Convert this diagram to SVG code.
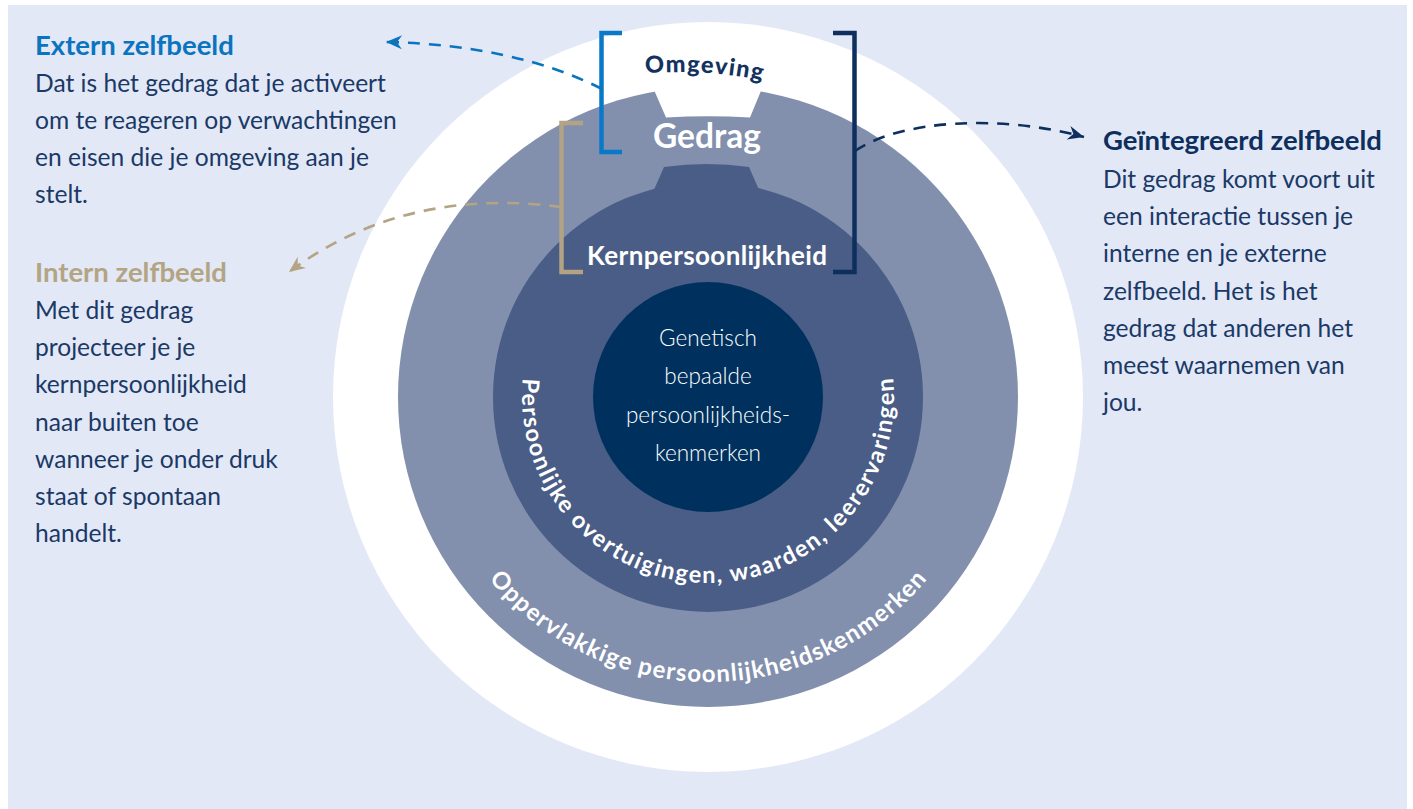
<svg xmlns="http://www.w3.org/2000/svg" width="1413" height="809" viewBox="0 0 1413 809">
<defs>
<style>
.body{font-family:Lato,"Open Sans","Liberation Sans",sans-serif;font-weight:400;font-size:24.6px;fill:#1b3966}
.head{font-family:Lato,"Liberation Sans",sans-serif;font-weight:700;font-size:27.5px}
.lbl{font-family:Lato,"Liberation Sans",sans-serif;font-weight:700;fill:#ffffff}
.core{font-family:Lato,"Open Sans","Liberation Sans",sans-serif;font-weight:300;font-size:22.5px;fill:#ffffff;text-anchor:middle}
.conn{fill:none;stroke-width:2.6;stroke-dasharray:12 9}
.bracket{fill:none;stroke-width:4.5}
</style>
<marker id="ah-blue" markerUnits="userSpaceOnUse" markerWidth="20" markerHeight="16" viewBox="0 0 20 16" refX="18" refY="8" orient="auto"><path d="M18,8 L2,1 L7,8 L2,15 Z" fill="#0b74bf"/></marker>
<marker id="ah-tan" markerUnits="userSpaceOnUse" markerWidth="20" markerHeight="16" viewBox="0 0 20 16" refX="18" refY="8" orient="auto"><path d="M18,8 L2,1 L7,8 L2,15 Z" fill="#b3a483"/></marker>
<marker id="ah-navy" markerUnits="userSpaceOnUse" markerWidth="20" markerHeight="16" viewBox="0 0 20 16" refX="18" refY="8" orient="auto"><path d="M18,8 L2,1 L7,8 L2,15 Z" fill="#0e2f5e"/></marker>
<path id="arc-omg" d="M 480 125.6 A 400 400 0 0 1 880 125.6"/>
<path id="arc-inner" d="M 533.22 333.38 A 186 186 0 1 0 882.78 333.38"/>
<path id="arc-outer" d="M 427.33 446.49 A 285 285 0 0 0 988.67 446.49"/>
</defs>

<rect id="background" x="8" y="5" width="1399" height="804" fill="#e2e8f6"/>

<g id="rings">
  <circle cx="708" cy="397" r="375" fill="#ffffff"/>
  <circle cx="708" cy="397" r="310" fill="#8290ae"/>
  <path d="M 649.7 80 L 666 117.5 Q 708 115 750 117.5 L 765.4 80 Z" fill="#ffffff"/>
  <circle cx="708" cy="397" r="215" fill="#4a5d86"/>
  <path d="M 647.3 205 L 664 167 Q 706.5 161 749 167 L 765.7 205 Z" fill="#4a5d86"/>
  <circle cx="708" cy="397" r="115" fill="#00315e"/>
</g>

<g id="omgeving">
  <text class="lbl" font-size="23.5" font-weight="900" style="fill:#13325f;font-weight:900"><textPath href="#arc-omg" startOffset="233.5" text-anchor="middle" textLength="117" lengthAdjust="spacing">Omgeving</textPath></text>
</g>

<g id="gedrag">
  <text class="lbl" x="707" y="148" font-size="33.5" text-anchor="middle">Gedrag</text>
</g>

<g id="oppervlakkige">
  <text class="lbl" font-size="24"><textPath href="#arc-outer" startOffset="50%" text-anchor="middle" textLength="500" lengthAdjust="spacing">Oppervlakkige persoonlijkheidskenmerken</textPath></text>
</g>

<g id="kernpersoonlijkheid">
  <text class="lbl" x="707" y="265" font-size="26" text-anchor="middle" textLength="240" lengthAdjust="spacing">Kernpersoonlijkheid</text>
</g>

<g id="persoonlijke-overtuigingen">
  <text class="lbl" font-size="23.5"><textPath href="#arc-inner" startOffset="50%" text-anchor="middle" textLength="622" lengthAdjust="spacing">Persoonlijke overtuigingen, waarden, leerervaringen</textPath></text>
</g>

<g id="genetisch">
  <text class="core" x="708" y="346">Genetisch</text>
  <text class="core" x="708" y="384">bepaalde</text>
  <text class="core" x="708" y="423">persoonlijkheids-</text>
  <text class="core" x="708" y="461">kenmerken</text>
</g>

<g id="brackets">
  <polyline class="bracket" points="622,33 601.5,33 601.5,152 622,152" stroke="#0a78c8"/>
  <polyline class="bracket" points="583,123 561.5,123 561.5,272 583,272" stroke="#b3a382"/>
  <polyline class="bracket" points="833,33 854.5,33 854.5,272 833,272" stroke="#0e2f5e"/>
</g>

<g id="extern-zelfbeeld">
  <text class="head" x="35" y="55" fill="#0b74bf">Extern zelfbeeld</text>
  <text class="body" x="35" y="92">Dat is het gedrag dat je activeert</text>
  <text class="body" x="35" y="129">om te reageren op verwachtingen</text>
  <text class="body" x="35" y="166">en eisen die je omgeving aan je</text>
  <text class="body" x="35" y="203">stelt.</text>
</g>

<g id="intern-zelfbeeld">
  <text class="head" x="35" y="282" fill="#b3a483">Intern zelfbeeld</text>
  <text class="body" x="35" y="319">Met dit gedrag</text>
  <text class="body" x="35" y="356">projecteer je je</text>
  <text class="body" x="35" y="393">kernpersoonlijkheid</text>
  <text class="body" x="35" y="431">naar buiten toe</text>
  <text class="body" x="35" y="468">wanneer je onder druk</text>
  <text class="body" x="35" y="505">staat of spontaan</text>
  <text class="body" x="35" y="542">handelt.</text>
</g>

<g id="geintegreerd-zelfbeeld">
  <text class="head" x="1103" y="150" fill="#0e2f5e">Geïntegreerd zelfbeeld</text>
  <text class="body" x="1103" y="188">Dit gedrag komt voort uit</text>
  <text class="body" x="1103" y="225">een interactie tussen je</text>
  <text class="body" x="1103" y="262">interne en je externe</text>
  <text class="body" x="1103" y="300">zelfbeeld. Het is het</text>
  <text class="body" x="1103" y="337">gedrag dat anderen het</text>
  <text class="body" x="1103" y="374">meest waarnemen van</text>
  <text class="body" x="1103" y="411">jou.</text>
</g>

<g id="connectors">
  <path class="conn" d="M 602 89 Q 515 45 386 42" stroke="#0b74bf" marker-end="url(#ah-blue)"/>
  <path class="conn" d="M 561 207 C 480 196 380 204 289 272" stroke="#b3a483" marker-end="url(#ah-tan)"/>
  <path class="conn" d="M 855 151 C 900 120 1000 114 1084 137" stroke="#0e2f5e" marker-end="url(#ah-navy)"/>
</g>
</svg>
